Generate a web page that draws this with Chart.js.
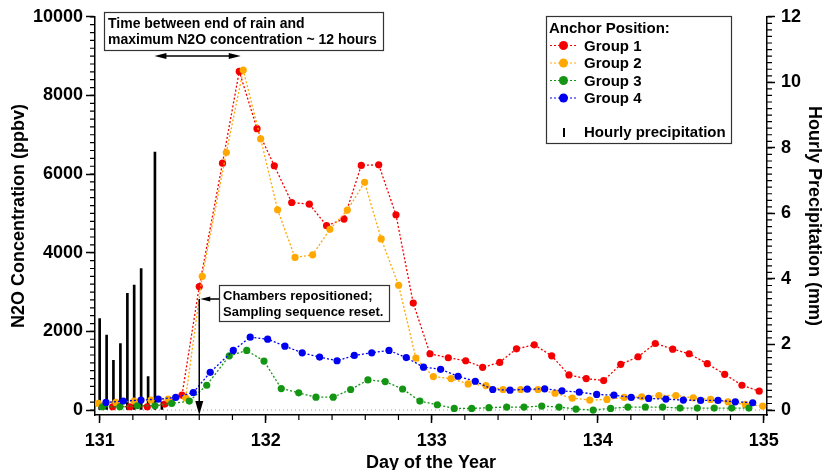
<!DOCTYPE html>
<html>
<head>
<meta charset="utf-8">
<script src="https://cdn.jsdelivr.net/npm/chart.js@4/dist/chart.umd.min.js"></script>
<style>
  body { margin: 0; background: #fff; }
</style>
</head>
<body>
<canvas id="myChart" width="836" height="470"></canvas>
<script>
// N2O concentration (ppbv) by anchor group, day of year
const group1Days = [131.078, 131.183, 131.287, 131.393, 131.496, 131.600, 131.740, 131.841, 131.948, 132.052,
  132.157, 132.263, 132.367, 132.472, 132.576, 132.681, 132.785, 132.889, 132.990, 133.100,
  133.205, 133.307, 133.410, 133.511, 133.618, 133.723, 133.827, 133.931, 134.036, 134.139,
  134.243, 134.347, 134.452, 134.551, 134.660, 134.765, 134.869, 134.973];
const group1Vals = [84, 84, 84, 152, 379, 3140, 6279, 8611, 7155, 6212,
  5278, 5236, 4689, 4857, 6221, 6237, 4966, 2719, 1431, 1330,
  1254, 1086, 1212, 1557, 1658, 1380, 892, 800, 749, 1162,
  1355, 1692, 1549, 1431, 1178, 909, 631, 480];

const group2Days = [130.992, 131.098, 131.207, 131.309, 131.413, 131.518, 131.618, 131.763, 131.865, 131.970,
  132.072, 132.177, 132.283, 132.387, 132.492, 132.596, 132.696, 132.801, 132.905, 133.010,
  133.116, 133.220, 133.327, 133.430, 133.536, 133.640, 133.743, 133.847, 133.952, 134.056,
  134.160, 134.265, 134.369, 134.471, 134.576, 134.680, 134.785, 134.889, 134.994];
const group2Vals = [168, 194, 227, 253, 278, 311, 3401, 6549, 8645, 6894,
  5093, 3880, 3947, 4596, 5084, 5791, 4352, 3173, 1322, 850,
  800, 665, 623, 522, 522, 522, 429, 303, 253, 269,
  320, 336, 370, 370, 311, 269, 210, 143, 101];

const group3Days = [131.016, 131.122, 131.227, 131.333, 131.434, 131.540, 131.645, 131.781, 131.886, 131.990,
  132.094, 132.199, 132.303, 132.407, 132.512, 132.616, 132.720, 132.825, 132.929, 133.034,
  133.136, 133.241, 133.345, 133.452, 133.556, 133.663, 133.767, 133.869, 133.973, 134.078,
  134.182, 134.287, 134.391, 134.496, 134.600, 134.702, 134.807, 134.911];
const group3Vals = [84, 84, 109, 109, 168, 227, 631, 1380, 1515, 1246,
  547, 438, 328, 328, 522, 766, 724, 535, 227, 135,
  42, 42, 59, 76, 76, 101, 76, 25, 0, 42,
  76, 76, 76, 50, 50, 50, 50, 50];

const group4Days = [131.038, 131.142, 131.249, 131.353, 131.458, 131.564, 131.666, 131.805, 131.907, 132.012,
  132.116, 132.220, 132.325, 132.430, 132.534, 132.639, 132.743, 132.847, 132.951, 133.054,
  133.159, 133.263, 133.368, 133.472, 133.576, 133.681, 133.785, 133.889, 133.994, 134.098,
  134.202, 134.307, 134.411, 134.516, 134.620, 134.725, 134.829, 134.934];
const group4Vals = [194, 227, 253, 278, 320, 446, 960, 1515, 1852, 1801,
  1625, 1456, 1347, 1254, 1389, 1456, 1515, 1334, 1090, 1035,
  859, 732, 522, 505, 530, 539, 488, 455, 396, 379,
  320, 295, 278, 253, 244, 244, 210, 185];

// hourly precipitation (mm)
const rainDays = [131.000, 131.042, 131.083, 131.125, 131.167, 131.208, 131.250, 131.292, 131.333, 131.375];
const rainMm = [2.79, 2.29, 1.52, 2.03, 3.56, 3.81, 4.32, 1.02, 7.87, 0.25];

const dayTicks = [131, 132, 133, 134, 135];
const n2oTicks = [0, 2000, 4000, 6000, 8000, 10000];
const rainTicks = [0, 2, 4, 6, 8, 10, 12];

const rainEndDay = 131.33;
const peakDay = 131.85;
const resetDay = 131.6;

const FONT = "'Liberation Sans', Arial, sans-serif";
Chart.defaults.font.family = FONT;
Chart.defaults.font.weight = "bold";
Chart.defaults.color = "#000";

const pts = (days, vals) => days.map((d, i) => ({ x: d, y: vals[i] }));

function groupSet(label, days, vals, color, order) {
  return {
    type: "line",
    label: label,
    data: pts(days, vals),
    borderColor: color,
    backgroundColor: color,
    borderWidth: 1.3,
    borderDash: [2, 2],
    pointRadius: 3.6,
    pointBorderWidth: 0,
    pointBackgroundColor: color,
    fill: false,
    tension: 0,
    yAxisID: "y",
    order: order,
  };
}

function arrowHead(ctx, tx, ty, dx, dy, len, half) {
  ctx.beginPath();
  ctx.moveTo(tx, ty);
  ctx.lineTo(tx - dx * len - dy * half, ty - dy * len + dx * half);
  ctx.lineTo(tx - dx * len + dy * half, ty - dy * len - dx * half);
  ctx.closePath();
  ctx.fill();
}

function minorTicks(ctx, scale, step, side, len) {
  const a = scale.chart.chartArea;
  ctx.beginPath();
  for (let k = Math.ceil(scale.min / step); k * step <= scale.max + 1e-9; k++) {
    const p = scale.getPixelForValue(k * step);
    if (side === "bottom") { ctx.moveTo(p, a.bottom); ctx.lineTo(p, a.bottom + len); }
    if (side === "left") { ctx.moveTo(a.left, p); ctx.lineTo(a.left - len, p); }
    if (side === "right") { ctx.moveTo(a.right, p); ctx.lineTo(a.right + len, p); }
  }
  ctx.stroke();
}

const extras = {
  id: "extras",
  beforeDatasetsDraw(chart) {
    const { ctx, chartArea: a, scales } = chart;
    const y0 = scales.y.getPixelForValue(0);
    ctx.save();
    ctx.strokeStyle = "#999";
    ctx.lineWidth = 1;
    ctx.setLineDash([1, 3]);
    ctx.beginPath();
    ctx.moveTo(a.left, y0);
    ctx.lineTo(a.right, y0);
    ctx.stroke();
    ctx.restore();
  },
  afterDraw(chart) {
    const { ctx, chartArea: a, scales } = chart;
    const { x, y } = scales;
    ctx.save();
    ctx.strokeStyle = "#000";
    ctx.fillStyle = "#000";
    ctx.lineWidth = 1.2;
    minorTicks(ctx, scales.x, 0.2, "bottom", 5);
    minorTicks(ctx, scales.y, 200, "left", 5);
    minorTicks(ctx, scales.y2, 0.2, "right", 5);

    // note 1: time between end of rain and peak
    ctx.fillStyle = "#fff";
    ctx.fillRect(104, 12, 279, 38);
    ctx.strokeStyle = "#333";
    ctx.lineWidth = 1.2;
    ctx.strokeRect(104.5, 12.5, 279, 38);
    ctx.fillStyle = "#000";
    ctx.font = "bold 14px " + FONT;
    ctx.textAlign = "left";
    ctx.textBaseline = "alphabetic";
    ctx.fillText("Time between end of rain and", 108, 28);
    ctx.fillText("maximum N2O concentration ~ 12 hours", 108, 44);
    const ax1 = x.getPixelForValue(rainEndDay);
    const ax2 = x.getPixelForValue(peakDay);
    const ay = 56;
    ctx.strokeStyle = "#000";
    ctx.lineWidth = 1.5;
    ctx.beginPath();
    ctx.moveTo(ax1 + 6, ay);
    ctx.lineTo(ax2 - 6, ay);
    ctx.stroke();
    arrowHead(ctx, ax1, ay, -1, 0, 12, 3);
    arrowHead(ctx, ax2, ay, 1, 0, 12, 3);

    // note 2: chambers repositioned
    const rx = x.getPixelForValue(resetDay);
    const ry = 299;
    ctx.lineWidth = 1.5;
    ctx.beginPath();
    ctx.moveTo(rx, ry);
    ctx.lineTo(rx, a.bottom - 8);
    ctx.moveTo(rx + 6, ry);
    ctx.lineTo(219, ry);
    ctx.stroke();
    arrowHead(ctx, rx, a.bottom, 0, 1, 14, 4);
    arrowHead(ctx, rx + 1, ry, -1, 0, 10, 2.5);
    ctx.fillStyle = "#fff";
    ctx.fillRect(219, 285, 170, 36);
    ctx.strokeStyle = "#333";
    ctx.lineWidth = 1.2;
    ctx.strokeRect(219.5, 285.5, 170, 36);
    ctx.fillStyle = "#000";
    ctx.font = "bold 13px " + FONT;
    ctx.fillText("Chambers repositioned;", 223, 300);
    ctx.fillText("Sampling sequence reset.", 223, 316);

    // legend
    ctx.fillStyle = "#fff";
    ctx.fillRect(546, 16, 185, 127);
    ctx.strokeStyle = "#333";
    ctx.lineWidth = 1.2;
    ctx.strokeRect(546.5, 16.5, 185, 127);
    ctx.fillStyle = "#000";
    ctx.font = "bold 15px " + FONT;
    ctx.textBaseline = "middle";
    ctx.fillText("Anchor Position:", 549, 29);
    const rows = [45.5, 63, 80.5, 98];
    chart.data.datasets.filter(d => d.type === "line").forEach((d, i) => {
      const ry2 = rows[i];
      ctx.strokeStyle = d.borderColor;
      ctx.lineWidth = 1.2;
      ctx.setLineDash([2, 2]);
      ctx.beginPath();
      ctx.moveTo(550, ry2);
      ctx.lineTo(577, ry2);
      ctx.stroke();
      ctx.setLineDash([]);
      ctx.fillStyle = d.borderColor;
      ctx.beginPath();
      ctx.arc(563.5, ry2, 4.5, 0, Math.PI * 2);
      ctx.fill();
      ctx.fillStyle = "#000";
      ctx.fillText(d.label, 584, ry2 + 1);
    });
    ctx.strokeStyle = "#000";
    ctx.lineWidth = 2;
    ctx.beginPath();
    ctx.moveTo(564, 128);
    ctx.lineTo(564, 137);
    ctx.stroke();
    ctx.fillText("Hourly precipitation", 584, 133);
    ctx.restore();
  },
};

const ctx = document.getElementById("myChart").getContext("2d");
const myChart = new Chart(ctx, {
  type: "line",
  data: {
    datasets: [
      groupSet("Group 1", group1Days, group1Vals, "rgb(245,0,0)", 4),
      groupSet("Group 2", group2Days, group2Vals, "rgb(255,168,0)", 3),
      groupSet("Group 3", group3Days, group3Vals, "rgb(20,150,20)", 2),
      groupSet("Group 4", group4Days, group4Vals, "rgb(0,0,240)", 1),
      {
        type: "bar",
        label: "Hourly precipitation",
        data: pts(rainDays, rainMm),
        backgroundColor: "#000",
        barThickness: 2,
        yAxisID: "y2",
        order: 10,
      },
    ],
  },
  options: {
    responsive: false,
    animation: false,
    devicePixelRatio: 1,
    layout: { padding: { top: 14, left: 0, right: 0, bottom: 0 } },
    plugins: { legend: { display: false }, tooltip: { enabled: false } },
    scales: {
      x: {
        type: "linear",
        offset: false,
        min: 130.972,
        max: 135.02,
        afterBuildTicks: s => { s.ticks = dayTicks.map(v => ({ value: v })); },
        afterFit: s => { s.height = 55; },
        ticks: { font: { size: 18, weight: "bold" }, padding: 7, callback: v => String(v), maxRotation: 0 },
        grid: { offset: false, drawOnChartArea: false, tickLength: 8, tickColor: "#000", tickWidth: 1.5 },
        border: { color: "#000", width: 1.5 },
        title: { display: true, text: "Day of the Year", font: { size: 18, weight: "bold" }, padding: { top: 0, bottom: -4 } },
      },
      y: {
        position: "left",
        min: -126,
        max: 10000,
        afterBuildTicks: s => { s.ticks = n2oTicks.map(v => ({ value: v })); },
        afterFit: s => { s.width = 95; },
        ticks: { font: { size: 18, weight: "bold" }, padding: 3, callback: v => String(v) },
        grid: { drawOnChartArea: false, tickLength: 9, tickColor: "#000", tickWidth: 1.5 },
        border: { color: "#000", width: 1.5 },
        title: { display: true, text: "N2O Concentration (ppbv)", font: { size: 18, weight: "bold" }, padding: { top: 8, bottom: 0 } },
      },
      y2: {
        position: "right",
        min: -0.1515,
        max: 12,
        afterBuildTicks: s => { s.ticks = rainTicks.map(v => ({ value: v })); },
        afterFit: s => { s.width = 69; },
        ticks: { font: { size: 18, weight: "bold" }, padding: 6, callback: v => String(v) },
        grid: { drawOnChartArea: false, tickLength: 8, tickColor: "#000", tickWidth: 1.5 },
        border: { color: "#000", width: 1.5 },
        title: { display: true, text: "Hourly Precipitation (mm)", font: { size: 18, weight: "bold" }, padding: { top: 11, bottom: 0 } },
      },
    },
  },
  plugins: [extras],
});
</script>
</body>
</html>
